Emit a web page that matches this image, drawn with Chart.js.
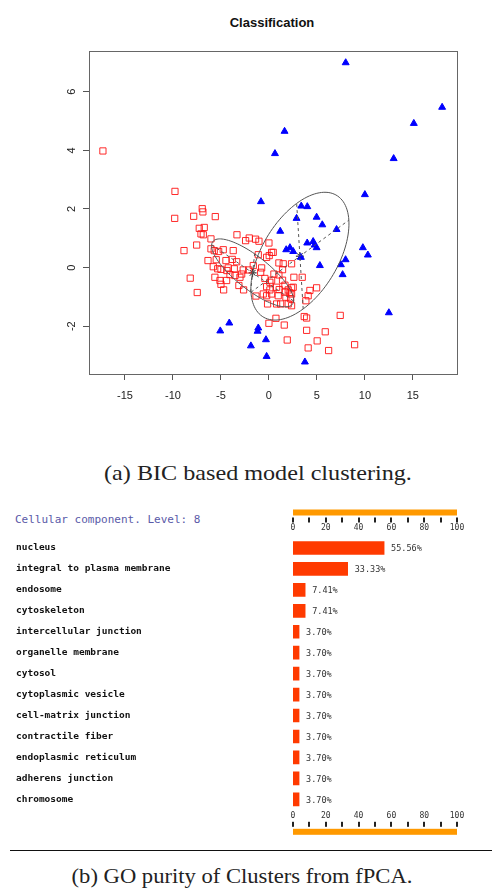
<!DOCTYPE html>
<html>
<head>
<meta charset="utf-8">
<script src="https://cdn.jsdelivr.net/npm/chart.js@4/dist/chart.umd.min.js"></script>
<style>
body{margin:0;background:#fff;width:492px;height:888px;position:relative;overflow:hidden}
canvas{position:absolute;left:0}
#c1{top:0}
#c2{top:500px}
.t{position:absolute;white-space:pre}
#title{left:0;width:544px;top:15px;text-align:center;font:bold 13px "Liberation Sans",Arial;color:#111;line-height:16px}
#capa{left:0;width:516px;top:460px;text-align:center;font:21px "Liberation Serif";color:#222;line-height:26px;transform:scaleX(1.15)}
#capb{left:0;width:484px;top:863px;text-align:center;font:20px "Liberation Serif";color:#222;line-height:26px;transform:scaleX(1.13)}
#gotitle{left:15px;top:512px;font:11px "DejaVu Sans Mono";color:#5a5aa8;line-height:16px}
#rule{position:absolute;left:10px;top:850px;width:482px;height:1px;background:#111}
</style>
</head>
<body>
<div class="t" id="title">Classification</div>
<canvas id="c1" width="492" height="420"></canvas>
<div class="t" id="capa">(a) BIC based model clustering.</div>
<div class="t" id="gotitle">Cellular component. Level: 8</div>
<canvas id="c2" width="492" height="345"></canvas>
<div id="rule"></div>
<div class="t" id="capb">(b) GO purity of Clusters from fPCA.</div>
<script>
// ---- (a) classification scatter ----
const xTicks = [-15,-10,-5,0,5,10,15];
const yTicks = [-2,0,2,4,6];

const redX = [-17.3,-9.79,-9.82,-7.84,-6.95,-6.88,-5.59,-7.26,-6.74,-7.08,-6.84,-6.04,-7.53,-8.85,-6.04,-5.7,-4.76,-5.24,-3.72,-3.33,
  -2.43,-2.05,-1.39,-1.04,0.0,-6.35,-5.49,-5.34,-4.48,-3.82,-3.36,-5.8,-5.0,-4.24,-3.54,-2.68,-2.84,-2.11,-4.06,-3.02,
  -8.2,-5.63,-5.1,-5.0,-4.41,-4.72,-7.47,-3.13,-2.64,-1.35,0.28,0.45,0.03,-1.11,-0.24,1.04,1.49,2.36,1.42,-0.76,
  -0.86,-1.63,-3.61,-4.38,0.52,1.04,0.1,-0.24,0.1,0.8,1.07,0.28,-0.24,0.97,1.67,2.01,2.36,2.19,1.77,2.26,
  2.6,3.47,2.53,2.36,1.22,2.01,2.36,0.8,-0.14,-0.59,4.27,4.97,4.09,3.85,3.68,3.93,7.43,0.73,0.0,1.6,
  3.93,5.87,1.91,5.03,4.09,6.22,8.93,-0.42,0.28,1.67,1.42];
const redY = [3.98,2.6,1.68,1.75,2.01,1.9,1.74,1.34,1.37,1.15,1.12,0.98,0.77,0.58,0.64,0.58,0.61,0.55,0.58,1.12,
  0.92,1.01,0.97,0.9,0.84,0.24,0.27,-0.04,0.24,0.28,0.2,0.03,-0.06,-0.01,-0.27,-0.08,-0.22,-0.08,-0.24,-0.33,
  -0.36,-0.33,-0.44,-0.57,-0.44,-0.76,-0.85,-0.61,-0.76,-0.97,0.52,0.52,0.41,0.44,0.35,0.16,0.13,0.13,-0.07,-0.01,
  -0.16,0.07,-0.04,-0.1,-0.22,-0.25,-0.5,-0.65,-0.76,-0.67,-0.75,-0.9,-0.96,-0.96,-0.84,-0.76,-0.69,-0.86,-1.01,-1.06,
  -0.33,-0.33,-0.67,-0.9,-1.24,-1.24,-1.3,-1.24,-1.24,-0.9,-0.78,-0.69,-0.96,-1.13,-1.67,-1.72,-1.63,-1.73,-1.9,-1.96,
  -2.14,-2.19,-2.47,-2.5,-2.74,-2.83,-2.63,-0.37,-0.43,-0.6,-0.43];

const blueX = [8.0,18.05,15.1,1.63,0.63,13.0,10.0,-0.83,3.37,4.0,2.88,4.97,5.56,7.05,1.18,3.99,4.61,4.97,4.76,1.8,
  2.19,2.53,3.33,9.79,10.31,7.99,7.5,5.31,7.68,12.5,-4.13,-5.07,-1.11,-1.18,-0.31,-1.88,-0.24,3.75];
const blueY = [6.99,5.47,4.92,4.65,3.89,3.72,2.49,2.25,2.1,2.08,1.68,1.72,1.46,1.3,1.24,0.84,0.89,0.68,0.77,0.61,
  0.68,0.55,0.35,0.68,0.43,0.27,0.1,0.07,-0.24,-1.54,-1.89,-2.16,-2.06,-2.17,-2.46,-2.67,-3.03,-3.22];

// cluster centres and ellipse axis vectors (data units)
const ellCenter = [[-1.7,-0.18],[3.23,0.39]];
const ellAxisA = [[4.27,-0.96],[5.10,1.23]];
const ellAxisB = [[0.21,0.65],[-0.34,1.80]];

const zip = (a,b) => a.map((v,i)=>({x:v,y:b[i]}));

const ellipsePlugin = {
  id:'ellipses',
  afterDatasetsDraw(chart){
    const {ctx, chartArea:a, scales:{x,y}} = chart;
    ctx.save();
    ctx.strokeStyle='#555'; ctx.lineWidth=1;
    ellCenter.forEach((c,k)=>{
      const A=ellAxisA[k], B=ellAxisB[k];
      ctx.beginPath();
      for(let i=0;i<=120;i++){
        const t=i/120*2*Math.PI;
        const px=x.getPixelForValue(c[0]+A[0]*Math.cos(t)+B[0]*Math.sin(t));
        const py=y.getPixelForValue(c[1]+A[1]*Math.cos(t)+B[1]*Math.sin(t));
        if(i) ctx.lineTo(px,py); else ctx.moveTo(px,py);
      }
      ctx.stroke();
      ctx.setLineDash([3,3]);
      [A,B].forEach(v=>{
        ctx.beginPath();
        ctx.moveTo(x.getPixelForValue(c[0]-v[0]),y.getPixelForValue(c[1]-v[1]));
        ctx.lineTo(x.getPixelForValue(c[0]+v[0]),y.getPixelForValue(c[1]+v[1]));
        ctx.stroke();
      });
      ctx.setLineDash([]);
    });
    ctx.strokeStyle='#666';
    ctx.strokeRect(Math.round(a.left)+0.5,Math.round(a.top)+0.5,Math.round(a.width),Math.round(a.height));
    ctx.restore();
  }
};

new Chart(document.getElementById('c1'),{
  type:'scatter',
  data:{datasets:[
    {data:zip(redX,redY),pointStyle:'rect',radius:4.4,borderColor:'rgba(255,20,20,0.9)',backgroundColor:'rgba(0,0,0,0)',borderWidth:1},
    {data:zip(blueX,blueY),pointStyle:'triangle',radius:4,borderColor:'#0000ff',backgroundColor:'#0000ff',borderWidth:1},
    {data:ellCenter.map(c=>({x:c[0],y:c[1]})),pointStyle:'star',radius:4,borderColor:'#111',borderWidth:1}
  ]},
  options:{
    responsive:false,animation:false,
    layout:{padding:{left:52,right:35,top:51,bottom:16}},
    plugins:{legend:{display:false},tooltip:{enabled:false}},
    scales:{
      x:{type:'linear',min:-18.75,max:19.6,
        afterBuildTicks:s=>{s.ticks=xTicks.map(v=>({value:v}));},
        afterFit:s=>{s.height=30;},
        grid:{drawOnChartArea:false,tickLength:6,color:'#555'},
        border:{display:false},
        ticks:{padding:9,color:'#222',font:{family:'"Liberation Sans"',size:11}}},
      y:{type:'linear',min:-3.63,max:7.39,
        afterBuildTicks:s=>{s.ticks=yTicks.map(v=>({value:v}));},
        afterFit:s=>{s.width=37;},
        grid:{drawOnChartArea:false,tickLength:6,color:'#555'},
        border:{display:false},
        ticks:{minRotation:90,maxRotation:90,crossAlign:'center',padding:6,color:'#222',font:{family:'"Liberation Sans"',size:11}}}
    }
  },
  plugins:[ellipsePlugin]
});

// ---- (b) GO purity bars ----
const goTerms = ['nucleus','integral to plasma membrane','endosome','cytoskeleton','intercellular junction',
  'organelle membrane','cytosol','cytoplasmic vesicle','cell-matrix junction','contractile fiber',
  'endoplasmic reticulum','adherens junction','chromosome'];
const purity = [55.56,33.33,7.41,7.41,3.70,3.70,3.70,3.70,3.70,3.70,3.70,3.70,3.70];
const pctTicks = [0,20,40,60,80,100];
const pctMinor = [0,10,20,30,40,50,60,70,80,90,100];

const labelFont = 'bold 9.5px "DejaVu Sans Mono"';
const mctx = document.createElement('canvas').getContext('2d');
mctx.font = labelFont;
const widest = Math.max(...goTerms.map(s=>mctx.measureText(s).width));

const goPlugin = {
  id:'goAxes',
  afterDraw(chart){
    const {ctx, chartArea:a, scales:{x}} = chart;
    const x0=x.getPixelForValue(0), x1=x.getPixelForValue(100);
    ctx.save();
    ctx.fillStyle='#ff9900';
    ctx.fillRect(x0,a.top-28,x1-x0,6);
    ctx.fillRect(x0,a.bottom+19,x1-x0,6);
    ctx.fillStyle='#222';
    pctMinor.forEach(v=>{
      const px=Math.round(x.getPixelForValue(v));
      ctx.fillRect(px-1,a.top-20,2,5);
      ctx.fillRect(px-1,a.bottom+12,2,5);
    });
    const meta=chart.getDatasetMeta(0);
    ctx.font='8.5px "DejaVu Sans Mono"';
    ctx.fillStyle='#333';
    ctx.textBaseline='middle';
    meta.data.forEach((bar,i)=>{ctx.fillText(purity[i].toFixed(2)+'%',bar.x+7,bar.y+1);});
    ctx.restore();
  }
};

const pctAxis = (pos,h,pad)=>({
  type:'linear',position:pos,min:0,max:100,axis:'x',
  afterBuildTicks:s=>{s.ticks=pctTicks.map(v=>({value:v}));},
  afterFit:s=>{s.height=h;},
  grid:{display:false,drawTicks:false},
  border:{display:false},
  ticks:{padding:pad,color:'#333',font:{family:'"DejaVu Sans Mono"',size:8}}
});

new Chart(document.getElementById('c2'),{
  type:'bar',
  data:{labels:goTerms,datasets:[{data:purity,backgroundColor:'#ff3a00',barThickness:13,borderWidth:0}]},
  options:{
    indexAxis:'y',responsive:false,animation:false,
    layout:{padding:{left:16,right:35,top:0,bottom:0}},
    plugins:{legend:{display:false},tooltip:{enabled:false}},
    scales:{
      x:pctAxis('top',37.5,5),
      x2:pctAxis('bottom',35.2,1),
      y:{type:'category',
        afterFit:s=>{s.width=277;s.paddingTop=0;s.paddingBottom=0;},
        grid:{display:false,drawTicks:false},
        border:{display:false},
        ticks:{crossAlign:'far',padding:277-widest,color:'#111',autoSkip:false,
          font:{family:'"DejaVu Sans Mono"',size:9.5,weight:'bold'}}}
    }
  },
  plugins:[goPlugin]
});
</script>
</body>
</html>
